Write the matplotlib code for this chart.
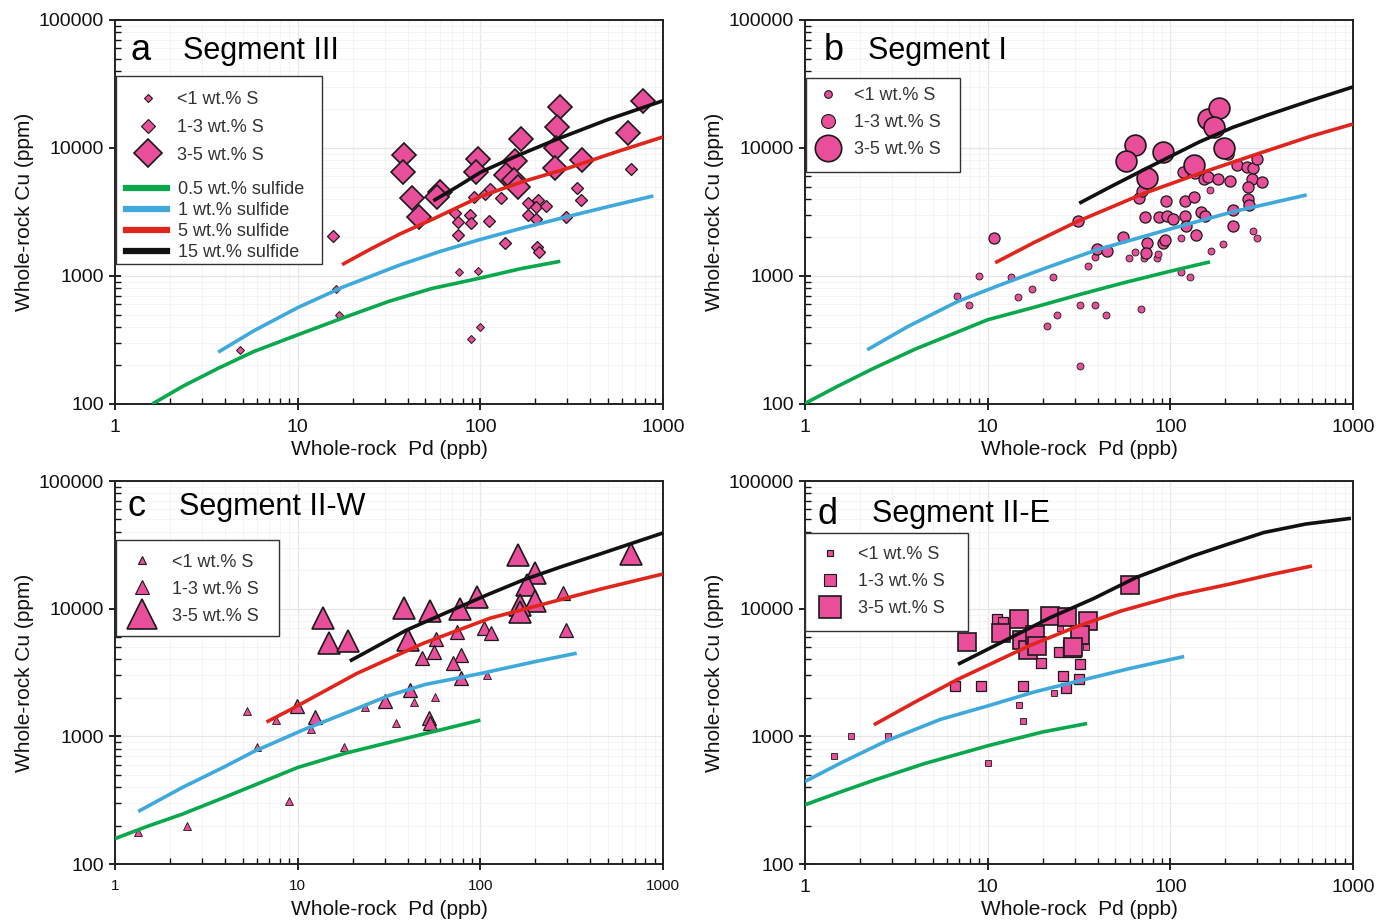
import matplotlib
matplotlib.use("Agg")
import matplotlib.pyplot as plt
from matplotlib.lines import Line2D
from matplotlib.patches import Rectangle
from matplotlib.ticker import LogLocator, FixedLocator, NullFormatter

plt.rcParams['font.family'] = ['Liberation Sans', 'DejaVu Sans']

PINK = '#e84e9a'
sulfide_labels = ['0.5 wt.% sulfide', '1 wt.% sulfide', '5 wt.% sulfide', '15 wt.% sulfide']
sulfide_colors = ['#0aa84c', '#3fa9dc', '#e0261c', '#111111']
s_labels = ['<1 wt.% S', '1-3 wt.% S', '3-5 wt.% S']

# ---------------- panel a : Segment III ----------------
a_green_pd = [1.6, 2.34, 3.67, 5.75, 10, 17.6, 31.6, 54, 100, 166, 274]
a_green_cu = [100, 137, 190, 257, 347, 469, 634, 797, 964, 1140, 1303]
a_blue_pd = [3.67, 5.75, 10, 17.6, 36.3, 60, 100, 170, 297, 500, 885]
a_blue_cu = [254, 373, 566, 817, 1220, 1553, 1930, 2370, 2900, 3480, 4220]
a_red_pd = [17.5, 25, 36.3, 54, 101, 170, 297, 550, 1000]
a_red_cu = [1227, 1620, 2130, 2750, 4200, 5450, 6900, 9280, 12200]
a_black_pd = [55.3, 75, 101, 158, 262, 500, 1000]
a_black_cu = [3870, 5000, 6500, 8660, 11700, 16700, 23400]

a_small_pd = [76.4, 4.85, 16.3, 16.9, 99, 88.6, 96.9]
a_small_cu = [1070, 262, 796, 498, 396, 321, 1100]
a_med_pd = [92.3, 106, 129, 113, 72.7, 75.8, 87.7, 88.9, 75.8, 112, 183, 208, 202, 228, 183,
            202, 337, 356, 294, 665, 137, 203, 210, 15.6]
a_med_cu = [4120, 4340, 4050, 4750, 3090, 2660, 3000, 2580, 2090, 2690, 3740, 3930, 3480, 3520, 3000,
            2770, 4850, 3930, 2880, 6830, 1800, 1690, 1530, 2070]
a_large_pd = [38.2, 37.9, 42.1, 46.4, 60.1, 57.7, 96.8, 94.7, 166, 155, 138, 152, 161, 273, 262,
              260, 256, 359, 646, 780]
a_large_cu = [8810, 6530, 4050, 2900, 4560, 4170, 8170, 6530, 11700, 7910, 6150, 5620, 4990, 20800, 14700,
              9950, 6930, 8060, 13000, 23400]

# ---------------- panel b : Segment I ----------------
b_green_pd = [1, 1.5, 2.34, 4, 10, 18, 31.6, 55, 100, 165]
b_green_cu = [101, 137, 188, 268, 455, 570, 714, 882, 1090, 1290]
b_blue_pd = [2.19, 3.67, 6.88, 11.7, 20, 39.5, 95.5, 221, 558]
b_blue_cu = [265, 404, 634, 851, 1132, 1600, 2290, 3180, 4300]
b_red_pd = [11.0, 18, 30.7, 71.1, 145, 300, 582, 1000]
b_red_cu = [1270, 1830, 2650, 4400, 6340, 8990, 12300, 15400]
b_black_pd = [31.7, 48, 71.1, 145, 220, 337, 582, 1000]
b_black_cu = [3700, 5050, 6730, 11200, 14500, 18000, 23400, 30000]

b_small_pd = [165, 115, 194, 168, 285, 299, 64.1, 59.6, 71.8, 84.9, 86, 38.7, 35.6, 115, 128,
              13.5, 22.7, 14.7, 17.4, 9.0, 6.82, 7.87, 24.1, 21.1, 31.9, 38.6, 44.2, 69.2, 32]
b_small_cu = [4700, 1970, 1780, 1580, 2250, 1970, 1550, 1390, 1390, 1390, 1490, 1420, 1200, 1080, 988,
              988, 988, 689, 796, 993, 693, 596, 498, 404, 596, 596, 498, 555, 199]
b_med_pd = [31.4, 67.6, 69.7, 94.3, 120, 134, 117, 136, 153, 161, 183, 212, 233, 262, 285, 297, 279,
            316, 267, 267, 271, 208, 72.3, 87, 95.5, 104, 120, 122, 148, 155, 138, 219, 219, 55.3,
            74.3, 73.6, 91.6, 93.5, 39.5, 45.2, 10.8]
b_med_cu = [2690, 4050, 4630, 3880, 3880, 4120, 6530, 6410, 5690, 5970, 5750, 5550, 7360, 7060, 6930, 8200, 5690,
            5460, 4990, 4000, 3590, 8970, 2880, 2880, 2950, 2770, 2950, 2470, 3180, 2950, 2090, 3280, 2470, 2000,
            1800, 1500, 1800, 1910, 1620, 1580, 1990]
b_large_pd = [64.1, 57.2, 74.3, 91.6, 134, 160, 184, 173, 197]
b_large_cu = [10500, 7910, 5790, 9350, 7360, 16800, 20400, 14700, 9950]

# ---------------- panel c : Segment II-W ----------------
c_green_pd = [1, 1.5, 2.34, 4, 10, 18, 31.6, 100]
c_green_cu = [158, 197, 246, 334, 570, 734, 895, 1340]
c_blue_pd = [1.34, 2.34, 4, 5.75, 10.7, 20, 32, 50, 100, 200, 337]
c_blue_cu = [258, 398, 580, 760, 1122, 1600, 2100, 2550, 3100, 3850, 4480]
c_red_pd = [6.75, 9.08, 21.0, 48.7, 113, 452, 1000]
c_red_cu = [1295, 1610, 3100, 5350, 8420, 14200, 18700]
c_black_pd = [19.3, 28, 39.5, 74.2, 110, 172, 280, 452, 1000]
c_black_cu = [3890, 5200, 6800, 10100, 12900, 16800, 21400, 26800, 39200]

c_small_pd = [43.3, 56.5, 23.4, 34.5, 5.26, 7.59, 6.01, 9.0, 2.47, 1.34, 11.9, 18.0, 109]
c_small_cu = [1870, 2020, 1710, 1280, 1580, 1340, 818, 309, 197, 177, 1140, 828, 3020]
c_med_pd = [285, 294, 74.2, 57, 105, 115, 55.7, 47.7, 78.4, 70.6, 78.1, 41.2, 30.1, 9.88, 12.4, 52.6, 53]
c_med_cu = [13200, 6810, 6610, 5750, 7020, 6480, 4600, 4080, 4330, 3730, 2840, 2320, 1900, 1740, 1430, 1380, 1280]
c_large_pd = [161, 199, 179, 199, 165, 165, 95.5, 77.4, 53, 38.2, 40.3, 13.8, 14.9, 18.9, 667]
c_large_cu = [26300, 18900, 15300, 11400, 10700, 9480, 12400, 9890, 9600, 10100, 5690, 8420, 5430, 5590, 27000]

# ---------------- panel d : Segment II-E ----------------
d_green_pd = [1, 1.5, 2.34, 4.5, 10, 20, 35]
d_green_cu = [291, 359, 449, 611, 843, 1082, 1260]
d_blue_pd = [1, 1.6, 2.8, 5.5, 10, 18, 31.6, 60, 119]
d_blue_cu = [443, 627, 923, 1356, 1730, 2227, 2720, 3400, 4220]
d_red_pd = [2.38, 4, 6.88, 16.9, 30, 54, 110, 208, 350, 596]
d_red_cu = [1230, 1856, 2800, 5120, 7140, 9610, 12780, 15500, 18400, 21600]
d_black_pd = [6.88, 12, 22, 38, 64.7, 133, 200, 325, 550, 975]
d_black_cu = [3670, 5480, 8510, 12000, 17500, 25900, 31500, 39500, 46000, 51000]

d_small_pd = [23.1, 14.9, 24.9, 34.5, 1.44, 1.79, 2.84, 10, 15.6]
d_small_cu = [2200, 1760, 7010, 4980, 703, 1000, 1000, 614, 1316]
d_med_pd = [19.5, 24.7, 27.7, 27.7, 30.5, 32, 25.7, 31.7, 26.8, 15.6, 9.16, 6.62, 11.3, 12.1]
d_med_cu = [3780, 4600, 5190, 4600, 4600, 3690, 2970, 2800, 2380, 2480, 2480, 2480, 8260, 7910]
d_large_pd = [7.74, 11.8, 14.9, 15.4, 16.7, 18.2, 18.6, 21.9, 27.3, 35.6, 32, 29.4, 60.1]
d_large_cu = [5510, 6480, 8260, 5690, 4740, 6220, 5100, 8770, 8650, 8050, 6220, 4980, 15300]


fig = plt.figure(figsize=(13.9, 9.21), dpi=100)
W, H = 1390, 921


def add_ax(x0, y0, x1, y1):
    return fig.add_axes([x0 / W, 1 - y1 / H, (x1 - x0) / W, (y1 - y0) / H])


def style_axis(ax, small_xticks=False):
    ax.set_xscale('log')
    ax.set_yscale('log')
    ax.set_xlim(1, 1000)
    ax.set_ylim(100, 100000)
    ax.xaxis.set_major_locator(FixedLocator([1, 10, 100, 1000]))
    ax.yaxis.set_major_locator(FixedLocator([100, 1000, 10000, 100000]))
    ax.set_xticklabels(['1', '10', '100', '1000'])
    ax.set_yticklabels(['100', '1000', '10000', '100000'])
    ax.xaxis.set_minor_locator(LogLocator(base=10, subs=range(2, 10)))
    ax.yaxis.set_minor_locator(LogLocator(base=10, subs=range(2, 10)))
    ax.xaxis.set_minor_formatter(NullFormatter())
    ax.yaxis.set_minor_formatter(NullFormatter())
    ax.tick_params(which='major', direction='inout', length=9, width=1.3, labelsize=14, colors='#111')
    ax.tick_params(axis='x', which='major', pad=6)
    ax.tick_params(which='minor', direction='in', length=4, width=1.0, colors='#111')
    if small_xticks:
        ax.tick_params(axis='x', which='major', labelsize=11)
    ax.grid(True, which='major', color='#e6e6e6', lw=0.9)
    ax.grid(True, which='minor', color='#f3f3f3', lw=0.6)
    ax.set_axisbelow(True)
    for sp in ax.spines.values():
        sp.set_linewidth(1.4)
        sp.set_color('#222')
    ax.set_xlabel('Whole-rock  Pd (ppb)', fontsize=15, color='#111')
    ax.set_ylabel('Whole-rock Cu (ppm)', fontsize=15, color='#111')
    ax.xaxis.set_label_coords(0.5, -0.095)
    ax.yaxis.set_label_coords(-0.148, 0.5)


def draw(ax, curves, groups, marker, sizes, lw_edges):
    for (pd_, cu_), c in zip(curves, sulfide_colors):
        ax.plot(pd_, cu_, color=c, lw=2.6, zorder=4, solid_capstyle='butt', solid_joinstyle='round')
    for (pd_, cu_), ms, lwe in zip(groups, sizes, lw_edges):
        ax.plot(pd_, cu_, ls='none', marker=marker, ms=ms, mfc=PINK, mec='#1a1a1a',
                mew=lwe, zorder=3)


def marker_legend(ax, marker, sizes, frame, anchor, spacing, handlelen, textpad):
    x0, y0, x1, y1 = frame
    ax.add_patch(Rectangle((x0, y0), x1 - x0, y1 - y0, transform=ax.transAxes,
                           facecolor='white', edgecolor='#333', lw=1.0, zorder=6))
    handles = [Line2D([], [], ls='none', marker=marker, ms=ms, mfc=PINK, mec='#1a1a1a',
                      mew=0.8 if i < 2 else 1.2) for i, ms in enumerate(sizes)]
    leg = ax.legend(handles, s_labels, loc='upper left', bbox_to_anchor=anchor, frameon=False,
                    borderpad=0, borderaxespad=0, labelspacing=spacing, handlelength=handlelen,
                    handletextpad=textpad, fontsize=13, labelcolor='#333')
    leg.set_zorder(7)
    return leg


def panel_title(ax, letter, text, lx, tx, y):
    ax.text(lx, y, letter, transform=ax.transAxes, fontsize=26, va='center', ha='left', zorder=8)
    ax.text(tx, y, text, transform=ax.transAxes, fontsize=22, va='center', ha='left', zorder=8)


# panel a
ax = add_ax(115, 20, 663, 404)
style_axis(ax)
draw(ax, [(a_green_pd, a_green_cu), (a_blue_pd, a_blue_cu), (a_red_pd, a_red_cu), (a_black_pd, a_black_cu)],
     [(a_small_pd, a_small_cu), (a_med_pd, a_med_cu), (a_large_pd, a_large_cu)], 'D', [3.8, 6.0, 12.5], [0.7, 0.9, 1.2])
leg1 = marker_legend(ax, 'D', [4.0, 7.0, 14.0], (0.002, 0.365, 0.378, 0.854), (0.03, 0.815), 0.6, 1.8, 0.75)
ax.add_artist(leg1)
line_handles = [Line2D([], [], color=c, lw=4.5) for c in sulfide_colors]
leg2 = ax.legend(line_handles, sulfide_labels, loc='upper left', bbox_to_anchor=(0.02, 0.58), frameon=False,
                 borderpad=0, borderaxespad=0, labelspacing=0.22, handlelength=2.3, handletextpad=0.6,
                 fontsize=13, labelcolor='#333')
leg2.set_zorder(7)
panel_title(ax, 'a', 'Segment III', 0.028, 0.124, 0.92)

# panel b
ax = add_ax(805, 20, 1353, 404)
style_axis(ax)
draw(ax, [(b_green_pd, b_green_cu), (b_blue_pd, b_blue_cu), (b_red_pd, b_red_cu), (b_black_pd, b_black_cu)],
     [(b_small_pd, b_small_cu), (b_med_pd, b_med_cu), (b_large_pd, b_large_cu)], 'o', [5.0, 8.0, 15.0], [0.6, 0.9, 1.2])
marker_legend(ax, 'o', [5.5, 10.0, 19.0], (0.002, 0.604, 0.283, 0.849), (0.012, 0.825), 0.55, 1.8, 0.55)
panel_title(ax, 'b', 'Segment I', 0.034, 0.115, 0.92)

# panel c
ax = add_ax(115, 481, 663, 864)
style_axis(ax, small_xticks=True)
draw(ax, [(c_green_pd, c_green_cu), (c_blue_pd, c_blue_cu), (c_red_pd, c_red_cu), (c_black_pd, c_black_cu)],
     [(c_small_pd, c_small_cu), (c_med_pd, c_med_cu), (c_large_pd, c_large_cu)], '^', [5.5, 9.5, 16.5], [0.6, 0.9, 1.2])
marker_legend(ax, '^', [5.5, 10.0, 21.0], (0.002, 0.595, 0.299, 0.846), (0.018, 0.81), 0.55, 1.9, 0.7)
panel_title(ax, 'c', 'Segment II-W', 0.022, 0.116, 0.933)

# panel d
ax = add_ax(805, 481, 1353, 864)
style_axis(ax)
draw(ax, [(d_green_pd, d_green_cu), (d_blue_pd, d_blue_cu), (d_red_pd, d_red_cu), (d_black_pd, d_black_cu)],
     [(d_small_pd, d_small_cu), (d_med_pd, d_med_cu), (d_large_pd, d_large_cu)], 's', [3.8, 6.5, 12.5], [0.6, 0.9, 1.2])
marker_legend(ax, 's', [4.3, 9.0, 16.5], (0.0, 0.608, 0.297, 0.864), (0.015, 0.83), 0.55, 1.9, 0.6)
panel_title(ax, 'd', 'Segment II-E', 0.022, 0.122, 0.913)

fig.savefig('out.png', dpi=100)
